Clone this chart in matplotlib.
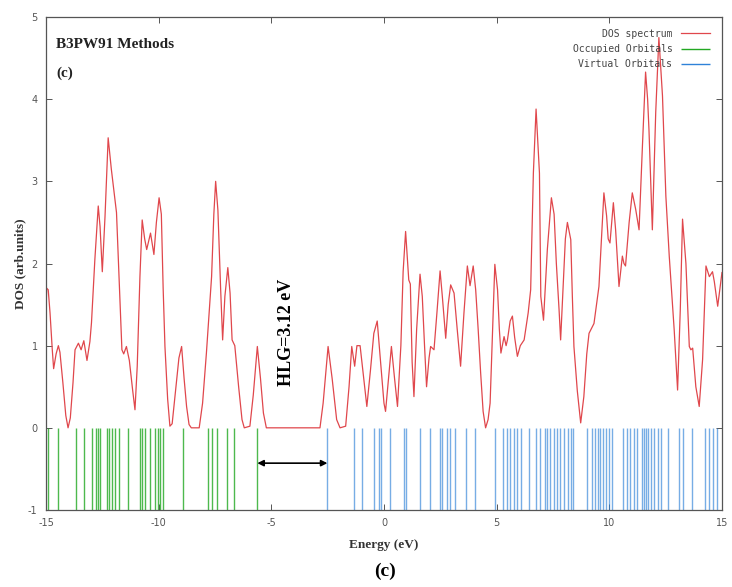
import matplotlib.pyplot as plt

plt.rcParams['axes.unicode_minus'] = False

# DOS curve (energy in eV, DOS in arb. units)
energy = [-15.0, -14.97, -14.9, -14.82, -14.72, -14.66, -14.55, -14.45, -14.38, -14.25,
          -14.12, -14.02, -13.92, -13.8, -13.71, -13.56, -13.44, -13.32, -13.18, -13.05,
          -12.98, -12.83, -12.68, -12.6, -12.5, -12.38, -12.24, -12.1, -11.87, -11.75,
          -11.63, -11.55, -11.43, -11.3, -11.15, -11.05, -10.95, -10.83, -10.73, -10.62,
          -10.53, -10.36, -10.21, -10.1, -9.98, -9.88, -9.8, -9.72, -9.6, -9.5,
          -9.4, -9.25, -9.1, -8.98, -8.87, -8.76, -8.65, -8.55, -8.2, -8.05,
          -7.88, -7.65, -7.55, -7.47, -7.37, -7.25, -7.16, -7.06, -6.93, -6.83,
          -6.74, -6.62, -6.45, -6.3, -6.2, -5.95, -5.8, -5.62, -5.48, -5.35,
          -5.22, -2.84, -2.7, -2.48, -2.3, -2.1, -1.95, -1.7, -1.55, -1.43,
          -1.3, -1.2, -1.06, -0.9, -0.76, -0.6, -0.45, -0.3, -0.15, 0.0,
          0.07, 0.2, 0.33, 0.47, 0.6, 0.75, 0.85, 0.96, 1.1, 1.17,
          1.25, 1.33, 1.45, 1.6, 1.7, 1.8, 1.89, 2.0, 2.07, 2.22,
          2.35, 2.49, 2.59, 2.74, 2.85, 2.96, 3.11, 3.25, 3.4, 3.55,
          3.7, 3.82, 3.96, 4.07, 4.18, 4.29, 4.4, 4.51, 4.62, 4.71,
          4.82, 4.92, 5.04, 5.12, 5.19, 5.33, 5.42, 5.48, 5.6, 5.7,
          5.8, 5.92, 6.05, 6.22, 6.4, 6.51, 6.63, 6.75, 6.84, 6.9,
          6.96, 7.08, 7.25, 7.43, 7.55, 7.65, 7.77, 7.84, 7.95, 8.05,
          8.14, 8.29, 8.36, 8.43, 8.58, 8.73, 8.87, 9.0, 9.1, 9.32,
          9.54, 9.65, 9.76, 9.88, 9.95, 10.03, 10.18, 10.28, 10.43, 10.58,
          10.65, 10.72, 10.88, 11.02, 11.17, 11.32, 11.47, 11.61, 11.7, 11.76,
          11.91, 12.06, 12.2, 12.3, 12.36, 12.51, 12.66, 12.88, 13.03, 13.15,
          13.25, 13.4, 13.55, 13.62, 13.7, 13.84, 13.99, 14.14, 14.29, 14.44,
          14.58, 14.66, 14.81, 15.0]
dos = [1.40, 1.70, 1.68, 1.40, 0.95, 0.72, 0.90, 1.00, 0.92, 0.55,
       0.15, 0.0, 0.12, 0.55, 0.95, 1.03, 0.95, 1.06, 0.82, 1.05,
       1.28, 2.05, 2.70, 2.45, 1.90, 2.57, 3.53, 3.15, 2.62, 1.8,
       0.95, 0.90, 0.99, 0.82, 0.45, 0.22, 0.75, 1.84, 2.53, 2.3,
       2.17, 2.37, 2.11, 2.5, 2.80, 2.6, 1.7, 0.99, 0.35, 0.02,
       0.05, 0.45, 0.85, 0.99, 0.6, 0.26, 0.04, 0.0, 0.0, 0.3,
       0.91, 1.84, 2.6, 3.0, 2.65, 1.7, 1.07, 1.6, 1.95, 1.64,
       1.07, 1.0, 0.5, 0.1, 0.0, 0.02, 0.4, 0.99, 0.6, 0.18,
       0.0, 0.0, 0.3, 0.99, 0.6, 0.1, 0.0, 0.02, 0.5, 0.99,
       0.75, 1.0, 1.0, 0.6, 0.26, 0.7, 1.15, 1.30, 0.8, 0.3,
       0.2, 0.6, 0.99, 0.6, 0.26, 1.0, 1.9, 2.39, 1.8, 1.75,
       0.8, 0.38, 1.2, 1.87, 1.6, 1.0, 0.5, 0.85, 0.99, 0.95,
       1.4, 1.91, 1.6, 1.09, 1.5, 1.74, 1.64, 1.2, 0.75, 1.4,
       1.97, 1.73, 1.97, 1.68, 1.2, 0.67, 0.2, 0.0, 0.1, 0.3,
       1.2, 1.99, 1.68, 1.2, 0.91, 1.11, 1.0, 1.07, 1.3, 1.36,
       1.1, 0.87, 1.0, 1.07, 1.4, 1.68, 3.1, 3.88, 3.4, 3.1,
       1.6, 1.31, 2.17, 2.80, 2.6, 2.0, 1.44, 1.07, 1.7, 2.3,
       2.5, 2.29, 1.6, 0.99, 0.45, 0.06, 0.38, 0.9, 1.15, 1.27,
       1.72, 2.3, 2.86, 2.58, 2.3, 2.25, 2.74, 2.41, 1.72, 2.09,
       2.0, 1.97, 2.5, 2.86, 2.66, 2.41, 3.43, 4.33, 4.0, 3.63,
       2.41, 3.84, 4.75, 4.3, 4.04, 2.82, 2.09, 1.19, 0.46, 1.44,
       2.54, 2.0, 0.99, 0.95, 0.97, 0.5, 0.26, 0.83, 1.97, 1.84,
       1.9, 1.78, 1.48, 1.89]

# orbital energies (eV)
occupied = [-14.9, -14.48, -13.67, -13.31, -12.97, -12.78, -12.69, -12.6, -12.29, -12.2,
            -12.08, -11.94, -11.75, -11.35, -10.83, -10.74, -10.61, -10.38, -10.16, -10.03,
            -9.94, -9.81, -8.93, -7.8, -7.65, -7.42, -6.98, -6.66, -5.62]
virtual = [-2.51, -1.33, -0.97, -0.44, -0.24, -0.11, 0.27, 0.87, 0.98, 1.58,
           2.04, 2.49, 2.58, 2.80, 2.95, 3.15, 3.64, 4.02, 4.91, 5.28,
           5.46, 5.59, 5.77, 5.91, 6.08, 6.44, 6.75, 6.93, 7.15, 7.24,
           7.39, 7.55, 7.68, 7.81, 7.99, 8.15, 8.30, 8.39, 9.03, 9.23,
           9.37, 9.48, 9.59, 9.72, 9.86, 9.97, 10.14, 10.61, 10.79, 10.94,
           11.10, 11.23, 11.45, 11.54, 11.63, 11.72, 11.85, 11.99, 12.16, 12.30,
           12.61, 13.10, 13.27, 13.67, 14.25, 14.41, 14.60, 14.78]

homo = occupied[-1]
lumo = virtual[0]

fig = plt.figure(figsize=(7.32, 5.87), dpi=100)
ax = fig.add_axes([0.0628, 0.1312, 0.9235, 0.8398])

ax.plot(energy, dos, color='#e0474c', lw=0.9, label='DOS spectrum')
ax.vlines(occupied, -1, 0, color='#22a822', lw=1.0, alpha=0.8, label='Occupied Orbitals')
ax.vlines(virtual, -1, 0, color='#2f82d8', lw=1.0, alpha=0.65, label='Virtual Orbitals')

# gap arrow
ax.annotate('', xy=(lumo, -0.43), xytext=(homo, -0.43),
            arrowprops=dict(arrowstyle='<|-|>', color='black', lw=1.2,
                            mutation_scale=9, shrinkA=0, shrinkB=0))
ax.text(-4.32, 1.16, 'HLG=3.12 eV', rotation=90, ha='center', va='center',
        family='Liberation Serif', fontweight='bold', fontsize=13)

ax.text(-14.55, 4.67, 'B3PW91 Methods', family='Liberation Serif', fontweight='bold',
        fontsize=11, color='#222222', ha='left', va='center')
ax.text(-14.55, 4.32, '(c)', family='Liberation Serif', fontweight='bold',
        fontsize=11, color='#222222', ha='left', va='center')

ax.set_xlim(-15, 15)
ax.set_ylim(-1, 5)
ax.set_xticks([-15, -10, -5, 0, 5, 10, 15])
ax.set_yticks([-1, 0, 1, 2, 3, 4, 5])
ax.tick_params(direction='in', length=4, width=0.7, top=True, right=True,
               labelsize=7, labelcolor='#555555', colors='#555555', pad=6)
for s in ax.spines.values():
    s.set_color('#555555')
    s.set_linewidth(0.9)

ax.set_xlabel('Energy (eV)', family='Liberation Serif', fontweight='bold',
              fontsize=9.5, color='#333333', labelpad=8)
ax.set_ylabel('DOS (arb.units)', family='Liberation Serif', fontweight='bold',
              fontsize=9.5, color='#333333', labelpad=1)

leg = ax.legend(loc='upper right', frameon=False, markerfirst=False,
                prop={'family': 'DejaVu Sans Mono', 'size': 7},
                handlelength=3.0, labelspacing=0.55, borderaxespad=0.8,
                handletextpad=0.9)
for t in leg.get_texts():
    t.set_color('#444444')
for h in leg.legend_handles:
    h.set_alpha(1.0)

fig.text(0.526, 0.026, '(c)', family='Liberation Serif', fontweight='bold',
         fontsize=14, ha='center', va='center')

fig.savefig('out.png', dpi=100)
